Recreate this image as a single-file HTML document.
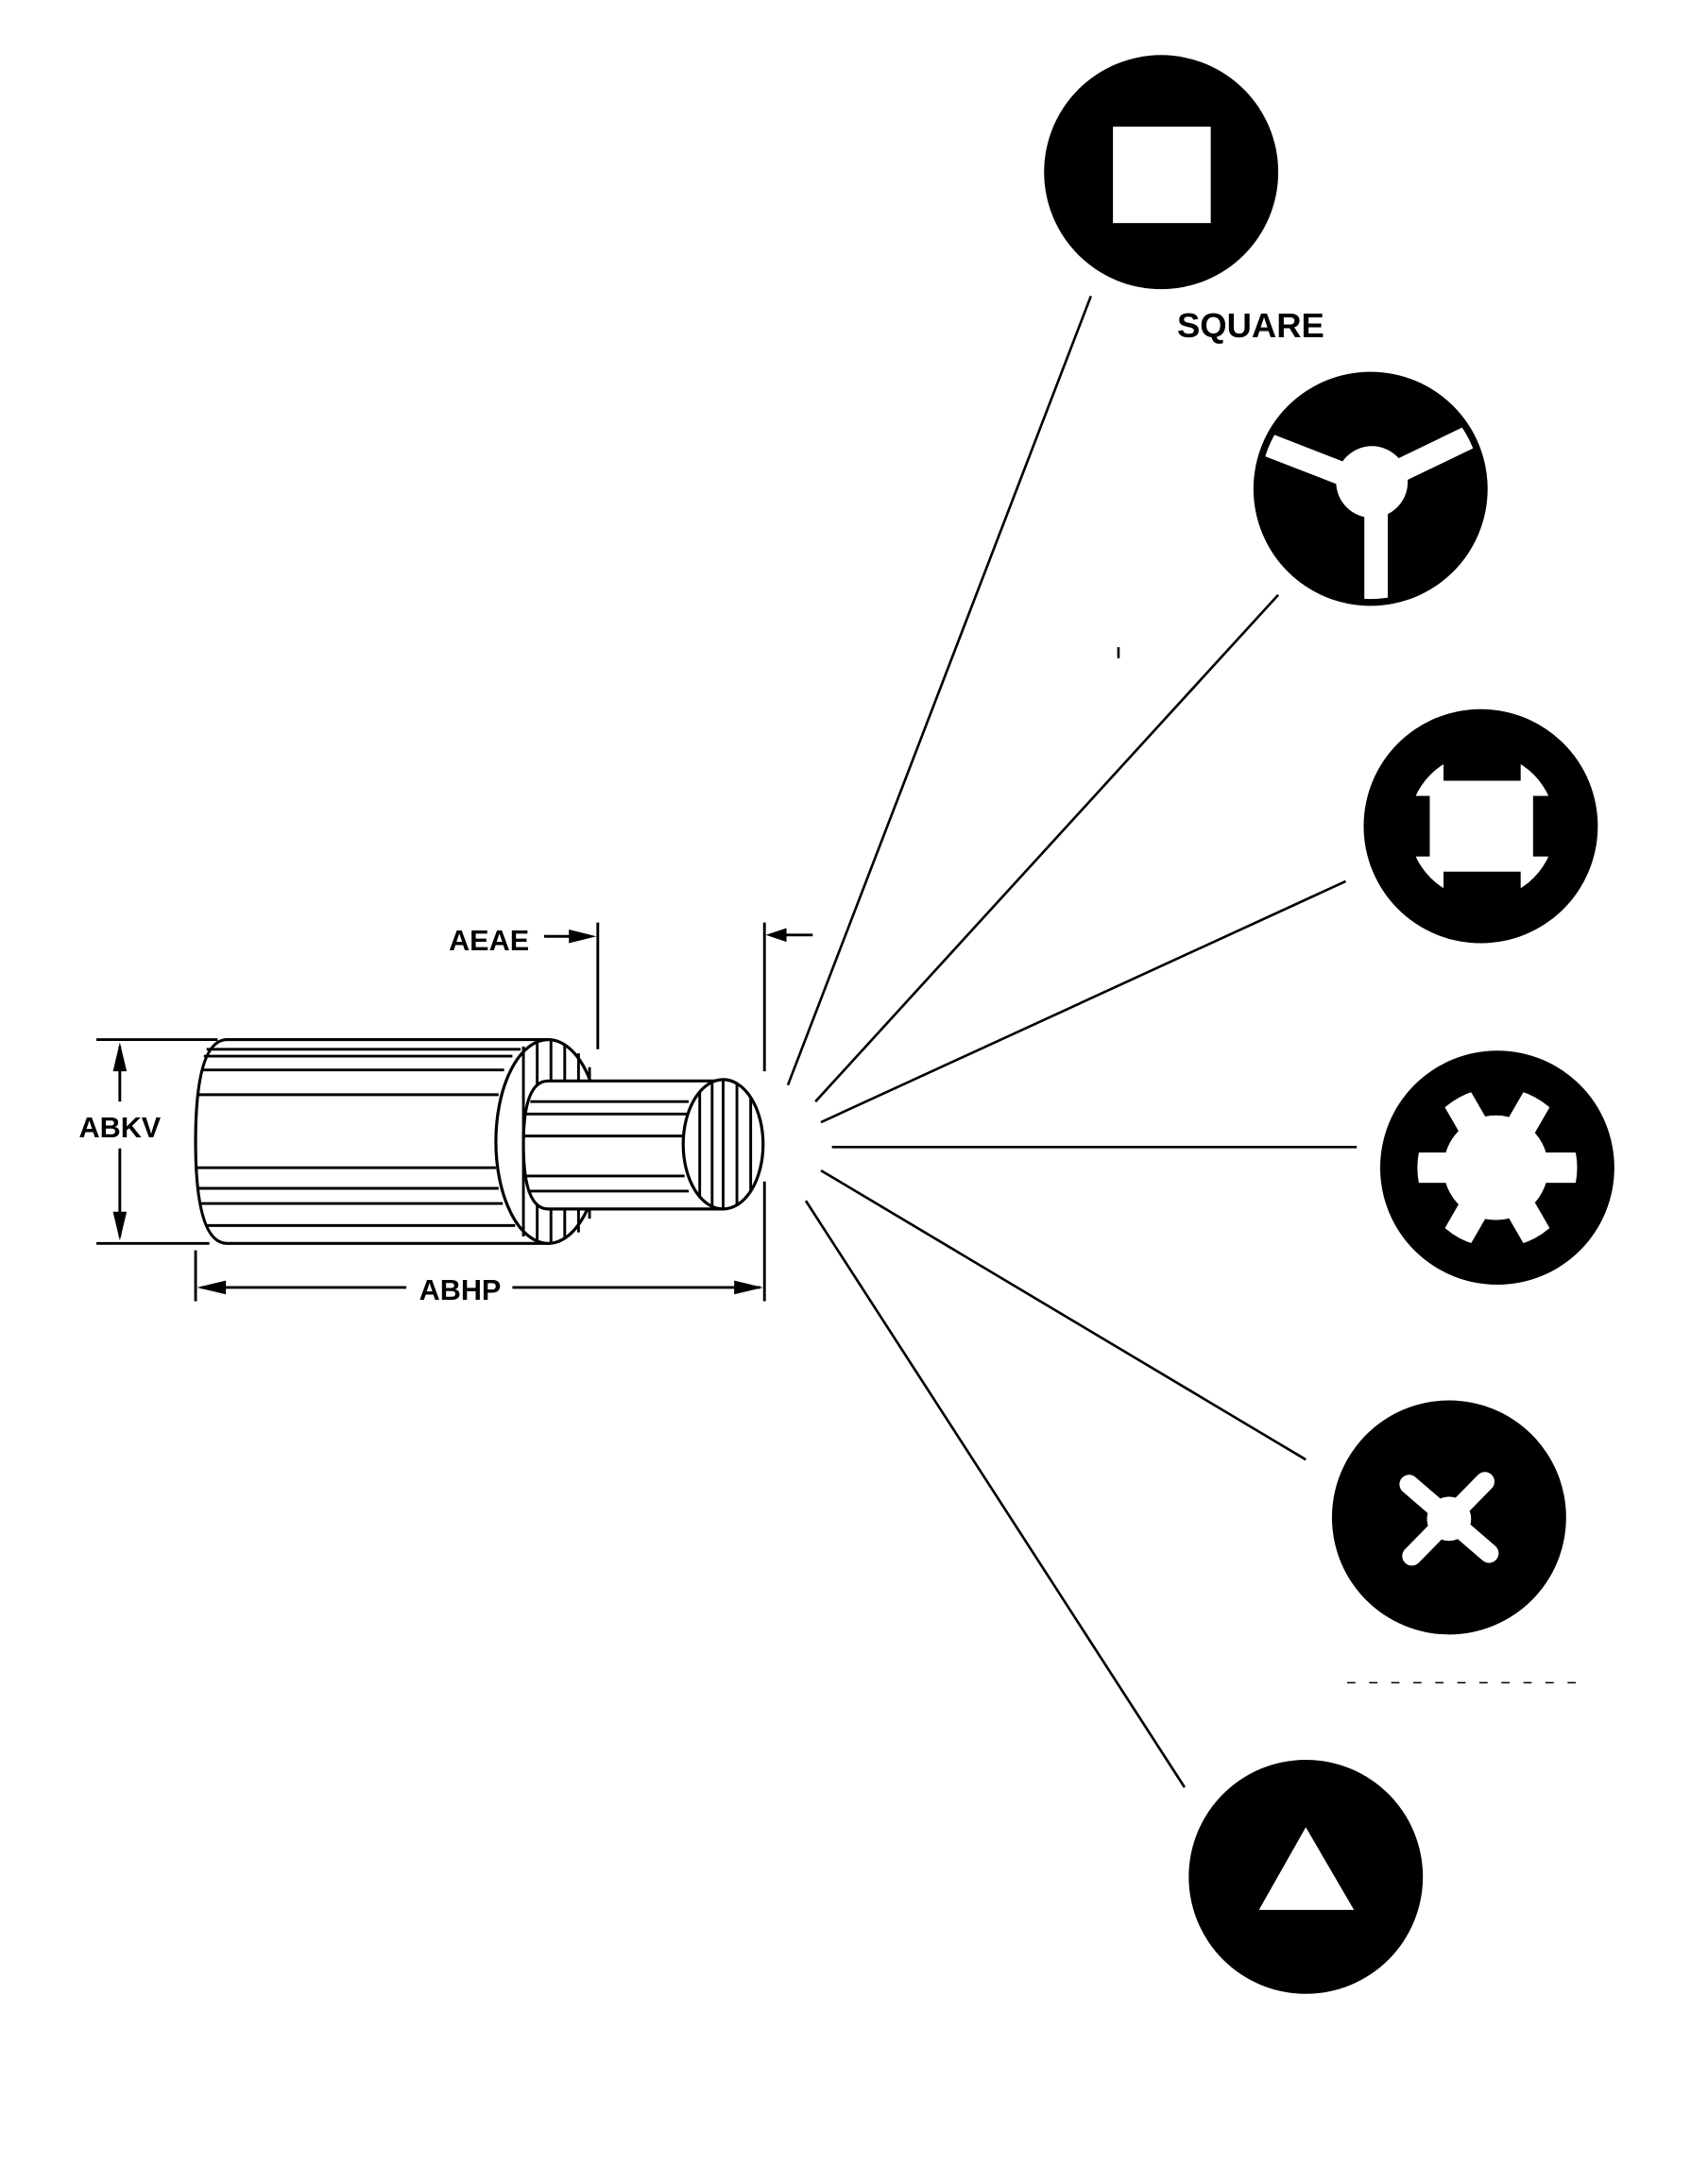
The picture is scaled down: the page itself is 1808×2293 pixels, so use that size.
<!DOCTYPE html>
<html><head><meta charset="utf-8"><style>
html,body{margin:0;padding:0;background:#fff;}
svg{display:block;}
text{font-family:"Liberation Sans",Arial,sans-serif;font-weight:bold;fill:#000;}
</style></head><body>
<svg width="1808" height="2293" viewBox="0 0 1240 1573" preserveAspectRatio="none" xmlns="http://www.w3.org/2000/svg">
<defs>
<clipPath id="c2"><circle cx="995" cy="355" r="80"/></clipPath>
<clipPath id="c4"><circle cx="1087" cy="848" r="58"/></clipPath>
</defs>
<rect width="1240" height="1573" fill="#fff"/>
<g stroke="#000" stroke-width="1.8" fill="none">
<line x1="792" y1="215" x2="572" y2="788"/>
<line x1="928" y1="432" x2="592" y2="800"/>
<line x1="977" y1="640" x2="596" y2="815"/>
<line x1="604" y1="833" x2="985" y2="833"/>
<line x1="596" y1="850" x2="948" y2="1060"/>
<line x1="585" y1="872" x2="860" y2="1298"/>
<line x1="812" y1="470" x2="812" y2="478"/>
</g>
<circle cx="843" cy="125" r="85" fill="#000"/>
<rect x="808" y="92" width="71" height="70" fill="#fff"/>
<text x="908" y="245" font-size="25" text-anchor="middle">SQUARE</text>
<circle cx="995" cy="355" r="85" fill="#000"/>
<g stroke="#fff" stroke-width="17" clip-path="url(#c2)">
<line x1="995" y1="352" x2="910" y2="319"/>
<line x1="995" y1="352" x2="1080" y2="311"/>
<line x1="999" y1="352" x2="999" y2="445"/>
</g>
<circle cx="996" cy="350" r="26" fill="#fff"/>
<circle cx="1075" cy="600" r="85" fill="#000"/>
<circle cx="1076" cy="600" r="53" fill="#fff"/>
<rect x="1048" y="540" width="56" height="27" fill="#000"/>
<rect x="1048" y="633" width="56" height="27" fill="#000"/>
<rect x="1016" y="578" width="22" height="44" fill="#000"/>
<rect x="1113" y="578" width="22" height="44" fill="#000"/>
<circle cx="1087" cy="848" r="85" fill="#000"/>
<circle cx="1086" cy="848" r="38" fill="#fff"/>
<g fill="#fff" clip-path="url(#c4)">
<rect x="1020" y="837" width="134" height="22"/>
<rect x="1020" y="837" width="134" height="22" transform="rotate(60 1087 848)"/>
<rect x="1020" y="837" width="134" height="22" transform="rotate(-60 1087 848)"/>
</g>
<circle cx="1052" cy="1102" r="85" fill="#000"/>
<g stroke="#fff" stroke-width="14" stroke-linecap="round">
<line x1="1023" y1="1078" x2="1081" y2="1128"/>
<line x1="1078" y1="1076" x2="1025" y2="1130"/>
</g>
<circle cx="1052" cy="1103" r="16" fill="#fff"/>
<line x1="978" y1="1222" x2="1152" y2="1222" stroke="#000" stroke-width="1" stroke-dasharray="6 10"/>
<circle cx="948" cy="1363" r="85" fill="#000"/>
<polygon points="948,1327 914,1387 983,1387" fill="#fff"/>

<g stroke="#000" stroke-width="2.2" fill="#fff">
<path d="M165,755 L398,755 L398,903 L165,903 Q142,903 142,829 Q142,755 165,755 Z"/>
<ellipse cx="398" cy="829" rx="38" ry="74"/>
</g>
<g stroke="#000" stroke-width="2" fill="none">
<line x1="150" y1="762" x2="378" y2="762"/>
<line x1="148" y1="767" x2="372" y2="767"/>
<line x1="146" y1="777" x2="366" y2="777"/>
<line x1="143" y1="795" x2="362" y2="795"/>
<line x1="143" y1="848" x2="360" y2="848"/>
<line x1="144" y1="863" x2="362" y2="863"/>
<line x1="146" y1="874" x2="365" y2="874"/>
<line x1="150" y1="890" x2="374" y2="890"/>
<line x1="380" y1="760" x2="380" y2="898"/>
<line x1="390" y1="756" x2="390" y2="902"/>
<line x1="400" y1="756" x2="400" y2="902"/>
<line x1="410" y1="758" x2="410" y2="900"/>
<line x1="420" y1="765" x2="420" y2="895"/>
<line x1="428" y1="775" x2="428" y2="885"/>
</g>
<g stroke="#000" stroke-width="2.2" fill="#fff">
<path d="M398,785 L525,785 L525,878 L398,878 Q380,878 380,831 Q380,785 398,785 Z"/>
<ellipse cx="525" cy="831" rx="29" ry="47"/>
</g>
<g stroke="#000" stroke-width="2" fill="none">
<line x1="385" y1="800" x2="500" y2="800"/>
<line x1="382" y1="809" x2="499" y2="809"/>
<line x1="380" y1="825" x2="497" y2="825"/>
<line x1="380" y1="854" x2="497" y2="854"/>
<line x1="383" y1="865" x2="500" y2="865"/>
<line x1="508" y1="793" x2="508" y2="870"/>
<line x1="517" y1="787" x2="517" y2="876"/>
<line x1="525" y1="784" x2="525" y2="878"/>
<line x1="535" y1="787" x2="535" y2="876"/>
<line x1="545" y1="797" x2="545" y2="866"/>
</g>
<g stroke="#000" stroke-width="2" fill="none">
<line x1="70" y1="755" x2="158" y2="755"/>
<line x1="70" y1="903" x2="152" y2="903"/>
<line x1="87" y1="760" x2="87" y2="800"/>
<line x1="87" y1="834" x2="87" y2="898"/>
<line x1="142" y1="908" x2="142" y2="945"/>
<line x1="555" y1="670" x2="555" y2="778"/>
<line x1="555" y1="858" x2="555" y2="945"/>
<line x1="146" y1="935" x2="295" y2="935"/>
<line x1="372" y1="935" x2="552" y2="935"/>
<line x1="434" y1="670" x2="434" y2="762"/>
<line x1="395" y1="680" x2="425" y2="680"/>
<line x1="566" y1="679" x2="590" y2="679"/>
</g>
<g fill="#000">
<polygon points="87,757 82,778 92,778"/>
<polygon points="87,901 82,880 92,880"/>
<polygon points="143,935 164,930 164,940"/>
<polygon points="554,935 533,930 533,940"/>
<polygon points="433,680 413,675 413,685"/>
<polygon points="556,679 571,674 571,684"/>
</g>
<text x="87" y="826" font-size="21" text-anchor="middle">ABKV</text>
<text x="334" y="944" font-size="21" text-anchor="middle">ABHP</text>
<text x="355" y="690" font-size="21" text-anchor="middle">AEAE</text>
</svg>
</body></html>
